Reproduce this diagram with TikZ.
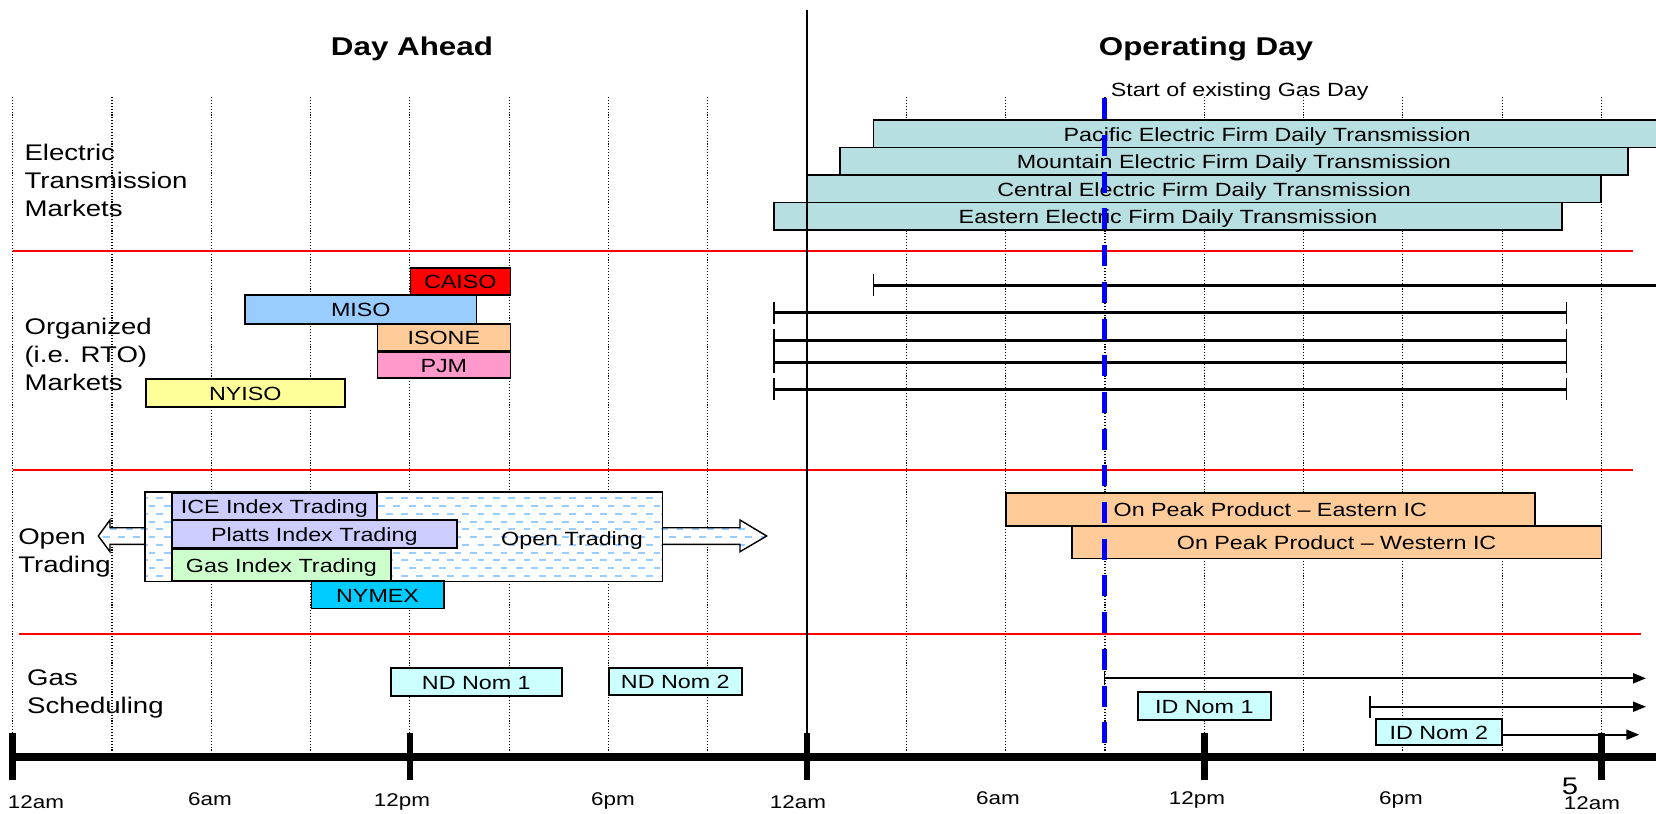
\documentclass[tikz,border=0pt]{standalone}
\usepackage{fontspec}
\setmainfont{Liberation Sans}[FakeStretch=1.22]
\usetikzlibrary{arrows.meta}

\definecolor{transfill}{RGB}{183,222,224}
\definecolor{misoblue}{RGB}{153,204,255}
\definecolor{peach}{RGB}{255,204,153}
\definecolor{pjmpink}{RGB}{255,153,204}
\definecolor{nyisoyellow}{RGB}{255,255,153}
\definecolor{lavender}{RGB}{204,204,255}
\definecolor{mintgreen}{RGB}{204,255,204}
\definecolor{nymexcyan}{RGB}{0,204,255}
\definecolor{nomcyan}{RGB}{204,255,255}
\definecolor{dashblue}{RGB}{153,204,255}
\definecolor{gasdayblue}{RGB}{0,0,255}

\tikzset{every picture/.style={line width=0.75pt}}
\tikzset{
  bar/.style={draw, line width=0.85pt, inner sep=0pt, anchor=north west,
    text height=9pt, text depth=1.5pt, font=\fontsize{9.55}{11}\selectfont},
  rowlabel/.style={anchor=base west, align=left, inner sep=0pt, font=\fontsize{11.3}{14}\selectfont},
  hourlabel/.style={anchor=base, inner sep=0pt, font=\fontsize{9.2}{11}\selectfont},
  heading/.style={anchor=base, inner sep=0pt, font=\fontsize{12.85}{15}\selectfont\bfseries},
  gridline/.style={line width=0.55pt, dash pattern=on 0.55pt off 0.9pt},
  redline/.style={draw=red, line width=1pt},
  mktline/.style={line width=1.5pt},
  schedline/.style={line width=1pt},
  dashfill/.style={draw=dashblue, line width=1pt, dash pattern=on 3.4pt off 4.25pt},
  endbar/.tip={Bar[width=11pt,line width=0.65pt]},
  smallbar/.tip={Bar[width=7pt,line width=0.6pt]},
  head/.tip={Triangle[length=6.5pt,width=5pt]},
}

\begin{document}
\begin{tikzpicture}[x=0.5pt,y=0.5pt,yscale=-1,xscale=1]
\useasboundingbox (0,0) rectangle (1656,814);

%Dotted hour lines, every 3 hours
\foreach \h in {0,3,...,48}
  \draw[gridline] ({12.7+33.1*\h},97) -- ({12.7+33.1*\h},752);

%Red separators
\draw[redline] (12.7,250.7) -- (1633,250.7);
\draw[redline] (12.7,470) -- (1633,470);
\draw[redline] (19,634.3) -- (1641,634.3);

% Text Node
\node[heading] (dayahead) at (412,55) {Day Ahead};
% Text Node
\node[heading] (opday) at (1206,55) {Operating Day};
% Text Node
\node[anchor=base west, inner sep=0pt, font=\fontsize{9.55}{11}\selectfont] (gasday) at (1110,96) {Start of existing Gas Day};

% Row labels (base = last line)
\node[rowlabel] (rowelec) at (23.8,216) {Electric\\Transmission\\Markets};
\node[rowlabel] (roworg) at (23.8,390.7) {Organized\\(i.e. RTO)\\Markets};
\node[rowlabel] (rowopen) at (17.5,572.7) {Open\\Trading};
\node[rowlabel] (rowgas) at (26.5,713.3) {Gas\\Scheduling};

%Electric transmission bars
\node[bar, fill=transfill, minimum width=393.7pt, minimum height=13.75pt] (pacific) at (872.6,119) {Pacific Electric Firm Daily Transmission};
\node[bar, fill=transfill, minimum width=394pt, minimum height=13.75pt] (mountain) at (839,146.5) {Mountain Electric Firm Daily Transmission};
\node[bar, fill=transfill, minimum width=396.75pt, minimum height=13.75pt] (central) at (806.5,174) {Central Electric Firm Daily Transmission};
\node[bar, fill=transfill, minimum width=393.8pt, minimum height=13.75pt] (eastern) at (773.4,201.5) {Eastern Electric Firm Daily Transmission};

%RTO bars
\node[bar, fill=red, minimum width=50pt, minimum height=13.5pt] (caiso) at (409.5,267) {CAISO};
\node[bar, fill=misoblue, minimum width=115.55pt, minimum height=14.5pt] (miso) at (244.4,294) {MISO};
\node[bar, fill=peach, minimum width=66.5pt, minimum height=13.25pt] (isone) at (376.5,323) {ISONE};
\node[bar, fill=pjmpink, minimum width=66.5pt, minimum height=13pt] (pjm) at (376.5,351) {PJM};
\node[bar, fill=nyisoyellow, minimum width=99.5pt, minimum height=14pt] (nyiso) at (145,378) {NYISO};

%RTO operating day spans
\coordinate (rto1a) at (872.7,285);   \coordinate (rto1b) at (1700,285);
\coordinate (rto2a) at (773.4,312.7); \coordinate (rto2b) at (1567,312.7);
\coordinate (rto3a) at (773.4,340);   \coordinate (rto3b) at (1567,340);
\coordinate (rto4a) at (773.4,362.3); \coordinate (rto4b) at (1567,362.3);
\coordinate (rto5a) at (773.4,389.3); \coordinate (rto5b) at (1567,389.3);
\draw[mktline, endbar-] (rto1a) -- (rto1b);
\foreach \r in {2,3,4,5}
  \draw[mktline, endbar-endbar] (rto\r a) -- (rto\r b);

%Open trading double arrow with dashed fill
\coordinate (otl) at (98.3,536);
\coordinate (otr) at (766.7,536);
\path[fill=white] (otl) -- (110,520) -- (110,527.7) -- (740,527.7) -- (740,520) -- (otr) -- (740,551.7) -- (740,544.3) -- (110,544.3) -- (110,551.7) -- cycle;
\begin{scope}
  \clip (otl) -- (110,520) -- (110,527.7) -- (740,527.7) -- (740,520) -- (otr) -- (740,551.7) -- (740,544.3) -- (110,544.3) -- (110,551.7) -- cycle;
  \foreach \k in {0,2,...,10} \draw[dashfill] (79.8,{498.3+7.75*\k}) -- (800,{498.3+7.75*\k});
  \foreach \k in {1,3,...,9} \draw[dashfill] (72.15,{498.3+7.75*\k}) -- (800,{498.3+7.75*\k});
\end{scope}
\draw[line width=0.7pt] (otl) -- (110,520) -- (110,527.7) -- (740,527.7) -- (740,520) -- (otr) -- (740,551.7) -- (740,544.3) -- (110,544.3) -- (110,551.7) -- cycle;

%Open trading box
\node[bar, draw=none, fill=white, minimum width=258pt, minimum height=44pt] (otbox) at (145,492) {};
\begin{scope}
  \clip (otbox.north west) rectangle (otbox.south east);
  \foreach \k in {0,2,...,10} \draw[dashfill] (79.8,{498.3+7.75*\k}) -- (800,{498.3+7.75*\k});
  \foreach \k in {1,3,...,9} \draw[dashfill] (72.15,{498.3+7.75*\k}) -- (800,{498.3+7.75*\k});
\end{scope}
\draw[line width=0.75pt] (otbox.north west) rectangle (otbox.south east);
% Text Node
\node[anchor=base, inner sep=0pt, font=\fontsize{9.55}{11}\selectfont] (ottext) at (572,545) {Open Trading};

%Index trading bars
\node[bar, fill=lavender, minimum width=102.5pt, minimum height=13.5pt] (ice) at (171,492) {ICE Index Trading};
\node[bar, fill=lavender, minimum width=142.5pt, minimum height=14pt] (platts) at (171,519) {Platts Index Trading};
\node[bar, fill=mintgreen, minimum width=109.5pt, minimum height=15.75pt] (gasidx) at (171,548.5) {Gas Index Trading};
\node[bar, fill=nymexcyan, minimum width=66.25pt, minimum height=13.85pt] (nymex) at (310.5,580) {NYMEX};

%On peak products
\node[bar, fill=peach, minimum width=264.5pt, minimum height=16.5pt] (eastic) at (1005,492) {On Peak Product -- Eastern IC};
\node[bar, fill=peach, minimum width=264.75pt, minimum height=16.35pt] (westic) at (1071,525) {On Peak Product -- Western IC};

%Nominations
\node[bar, fill=nomcyan, minimum width=85.5pt, minimum height=14pt] (ndnom1) at (390,667) {ND Nom 1};
\node[bar, fill=nomcyan, minimum width=66.5pt, minimum height=13.5pt] (ndnom2) at (608,667) {ND Nom 2};
\node[bar, fill=nomcyan, minimum width=66.5pt, minimum height=14pt] (idnom1) at (1137,691) {ID Nom 1};
\node[bar, fill=nomcyan, minimum width=63pt, minimum height=13pt] (idnom2) at (1375,718) {ID Nom 2};

%Scheduling arrows
\coordinate (sch1a) at (1104,678.3);  \coordinate (sch1b) at (1646,678.3);
\coordinate (sch2a) at (1369.3,706.7); \coordinate (sch2b) at (1646,706.7);
\coordinate (sch3b) at (1639.3,734.7);
\draw[schedline, smallbar-head] (sch1a) -- (sch1b);
\draw[schedline, endbar-head] (sch2a) -- (sch2b);
\draw[schedline, -head] (idnom2.east |- sch3b) -- (sch3b);

%Midnight divider
\draw[line width=0.85pt] (806.7,10) -- (806.7,757);

%Start of gas day
\draw[draw=gasdayblue, line width=2.5pt, dash pattern=on 10.5pt off 7.85pt] (1104,98.3) -- (1104,743.2);

%Time axis
\draw[line width=4.25pt] (12.7,757) -- (1700,757);
\foreach \h in {0,12,24,36,48}
  \draw[line width=3.35pt] ({12.7+33.1*\h},733) -- ({12.7+33.1*\h},780);

% Hour labels
\node[hourlabel] (t0) at (36,808) {12am};
\node[hourlabel] (t6) at (210,805) {6am};
\node[hourlabel] (t12) at (402,806.5) {12pm};
\node[hourlabel] (t18) at (613,805) {6pm};
\node[hourlabel] (t24) at (798,808) {12am};
\node[hourlabel] (t30) at (998,804.5) {6am};
\node[hourlabel] (t36) at (1197,804.5) {12pm};
\node[hourlabel] (t42) at (1401,804.5) {6pm};
\node[hourlabel] (t48) at (1592,809.3) {12am};
% Text Node
\node[anchor=base, inner sep=0pt, font=\fontsize{12}{14}\selectfont] (pagenum) at (1570,794) {5};
\end{tikzpicture}
\end{document}
